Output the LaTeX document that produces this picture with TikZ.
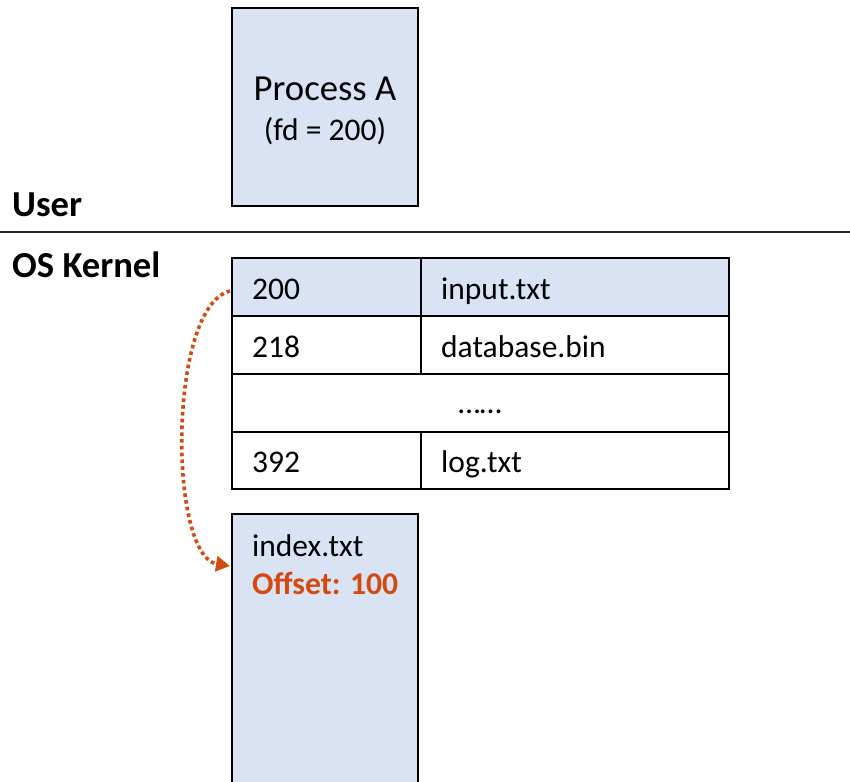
\documentclass[tikz,border=0pt]{standalone}
\usepackage{fontspec}
\setmainfont{Carlito}
\usetikzlibrary{arrows.meta}
\definecolor{boxblue}{HTML}{DAE3F3}
\definecolor{accent}{HTML}{D24A10}
\tikzset{
  cell/.style={draw=black, line width=2.2pt, anchor=north west, inner sep=0pt, outer sep=0pt},
  txt/.style={anchor=base west, inner sep=0pt, font=\fontsize{31.5}{36}\selectfont},
  lbl/.style={anchor=base west, inner sep=0pt, font=\fontsize{36.6}{42}\selectfont\bfseries},
}
\begin{document}
\begin{tikzpicture}[x=1pt,y=-1pt]
\useasboundingbox (0,0) rectangle (850,781);
\clip (0,0) rectangle (850,781);
% user space
\node[cell, fill=boxblue, minimum width=186pt, minimum height=198pt] (procA) at (232,8) {};
\node[anchor=base, inner sep=0pt, font=\fontsize{36.7}{42}\selectfont] (procname) at (325,101) {Process A};
\node[anchor=base, inner sep=0pt, font=\fontsize{31.5}{36}\selectfont] (procfd) at (325,140) {(fd = 200)};
\node[lbl] (user) at (12,216) {User};
\coordinate (sepL) at (0,232);
\coordinate (sepR) at (850,232);
\draw[line width=2.4pt, black!85] (sepL) -- (sepR);
\node[lbl] (kernel) at (12,277) {OS Kernel};
% fd table
\node[cell, fill=boxblue, minimum width=189pt, minimum height=58pt] (r1a) at (232,258) {};
\node[cell, fill=boxblue, minimum width=308pt, minimum height=58pt] (r1b) at (421,258) {};
\node[cell, minimum width=189pt, minimum height=58pt] (r2a) at (232,316) {};
\node[cell, minimum width=308pt, minimum height=58pt] (r2b) at (421,316) {};
\node[cell, minimum width=497pt, minimum height=58pt] (r3) at (232,374) {};
\node[cell, minimum width=189pt, minimum height=57pt] (r4a) at (232,432) {};
\node[cell, minimum width=308pt, minimum height=57pt] (r4b) at (421,432) {};
\node[txt] (t200) at (252,299) {200};
\node[txt] (tinput) at (441,299) {input.txt};
\node[txt] (t218) at (252,357) {218};
\node[txt] (tdb) at (441,357) {database.bin};
\node[anchor=base, inner sep=0pt, font=\fontsize{31.5}{36}\selectfont] (tdots) at (480,413) {……};
\node[txt] (t392) at (252,472) {392};
\node[txt] (tlog) at (441,472) {log.txt};
% open file entry
\node[cell, fill=boxblue, minimum width=186pt, minimum height=290pt] (entry) at (232,514) {};
\node[txt] (tindex) at (252,556) {index.txt};
\node[txt, font=\fontsize{31.7}{36}\selectfont\bfseries, text=accent] (toffset) at (252,594) {Offset: 100};
% arrow
\draw[accent, line width=3.6pt, dash pattern=on 3.6pt off 3.2pt, -{Triangle[length=14pt,width=15pt]}]
  ([shift={(-2,4)}]r1a.west) .. controls (168,306) and (168,556) .. ([shift={(-2,52)}]entry.north west);
\end{tikzpicture}
\end{document}
